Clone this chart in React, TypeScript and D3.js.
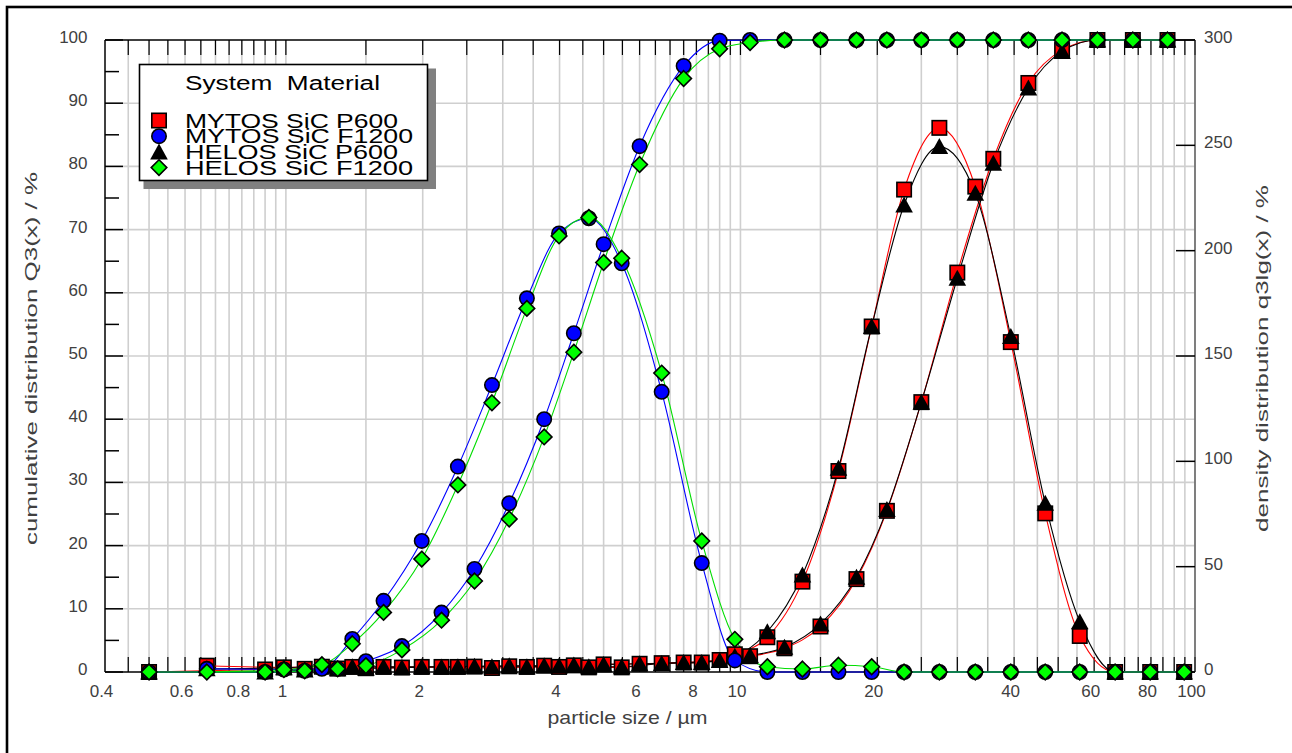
import React from "react";
import * as d3 from "d3";

// ---------- data ----------
// class upper edges (cumulative Q3 points), µm
const classEdges = [0.5, 0.9, 1.1, 1.3, 1.5, 1.8, 2.2, 2.6, 3.1, 3.7, 4.3, 5.0, 6.0, 7.5, 9.0, 10.5, 12.5, 15, 18, 21, 25, 30, 36, 43, 51, 61, 73, 87];
// class centres (density q3lg points), µm
const classMids = [0.67, 0.99, 1.2, 1.4, 1.64, 1.99, 2.39, 2.84, 3.39, 3.99, 4.64, 5.48, 6.71, 8.22, 9.72, 11.46, 13.69, 16.43, 19.44, 22.91, 27.39, 32.86, 39.34, 46.83, 55.78, 66.73, 79.69, 94.66];

const mytosP600Q3 = [0, 0.4, 0.5, 0.55, 0.6, 0.7, 0.8, 0.85, 0.9, 1.0, 1.05, 1.2, 1.3, 1.5, 1.9, 2.5, 3.75, 7.2, 14.7, 25.5, 42.7, 63.2, 81.2, 93.2, 98.4, 100, 100, 100];
const mytosP600q3 = [3, 2.2, 2.5, 2.4, 2.4, 2.4, 2.4, 1.9, 2.4, 2.4, 2.2, 2.2, 4.2, 4.5, 8.4, 16.5, 42.9, 95.4, 164, 229, 258.3, 230.4, 156.6, 75.3, 17.1, 0, 0, 0];

const mytosF1200Q3 = [0, 0, 0.2, 0.5, 1.7, 4.1, 9.4, 16.3, 26.7, 40, 53.6, 67.7, 83.2, 95.9, 99.9, 100, 100, 100, 100, 100, 100, 100, 100, 100, 100, 100, 100, 100];
const mytosF1200q3 = [1.5, 1.2, 1.5, 15.7, 33.8, 62.2, 97.5, 136.2, 177.4, 208.2, 215.4, 194, 133, 51.7, 5.5, 0, 0, 0, 0, 0, 0, 0, 0, 0, 0, 0, 0, 0];

const helosP600Q3 = [0, 0, 0.3, 0.5, 0.6, 0.7, 0.8, 0.9, 1.0, 1.0, 1.1, 1.2, 1.3, 1.5, 1.8, 2.6, 3.9, 7.6, 15.0, 25.7, 42.7, 62.3, 80.5, 92.4, 98.2, 100, 100, 100];
const helosP600q3 = [1.5, 2, 3, 2.5, 2.5, 2.5, 2.5, 2.5, 2.5, 2.8, 2.5, 2.5, 4, 4.5, 7.5, 19.1, 46, 96.7, 164, 221.7, 249.4, 227.2, 159.2, 80.1, 23.9, 0, 0, 0];

const helosF1200Q3 = [0, 0, 0.2, 0.5, 1.0, 3.5, 8.2, 14.4, 24.2, 37.2, 50.6, 64.8, 80.3, 93.9, 98.6, 99.6, 100, 100, 100, 100, 100, 100, 100, 100, 100, 100, 100, 100];
const helosF1200q3 = [0, 1.1, 3.5, 13.4, 28.3, 53.6, 88.8, 127.8, 172.6, 207, 215.8, 196.4, 141.9, 62.2, 15.5, 2.5, 1.4, 3.2, 2.5, 0, 0, 0, 0, 0, 0, 0, 0, 0];

const seriesNames = ["MYTOS SiC P600", "MYTOS SiC F1200", "HELOS SiC P600", "HELOS SiC F1200"];
const legendTitle = "System  Material";

const xTickLabels = [0.4, 0.6, 0.8, 1, 2, 4, 6, 8, 10, 20, 40, 60, 80, 100];
const leftTickLabels = [0, 10, 20, 30, 40, 50, 60, 70, 80, 90, 100];
const rightTickLabels = [0, 50, 100, 150, 200, 250, 300];

const xTitle = "particle size / µm";
const yLeftTitle = "cumulative distribution Q3(x) / %";
const yRightTitle = "density distribution q3lg(x) / %";

// ---------- layout ----------
const W = 1292;
const H = 753;
const PL = 105, PR = 1195, PT = 40, PB = 672;
const FONT = "'Liberation Sans', Arial, Helvetica, sans-serif";

const x = d3.scaleLog().domain([0.4, 100]).range([PL, PR]);
const yL = d3.scaleLinear().domain([0, 100]).range([PB, PT]);
const yR = d3.scaleLinear().domain([0, 300]).range([PB, PT]);

type Marker = "square" | "circle" | "triangle" | "diamond";
interface Series { name: string; color: string; fill: string; marker: Marker; Q3: number[]; q3: number[]; }

const series: Series[] = [
  { name: seriesNames[0], color: "#ff0000", fill: "#ff0000", marker: "square", Q3: mytosP600Q3, q3: mytosP600q3 },
  { name: seriesNames[1], color: "#0000ff", fill: "#0000ff", marker: "circle", Q3: mytosF1200Q3, q3: mytosF1200q3 },
  { name: seriesNames[2], color: "#000000", fill: "#000000", marker: "triangle", Q3: helosP600Q3, q3: helosP600q3 },
  { name: seriesNames[3], color: "#00dd00", fill: "#00ff00", marker: "diamond", Q3: helosF1200Q3, q3: helosF1200q3 },
];

// grid positions (linear steps within each decade)
const gridX: number[] = [];
for (let i = 9; i <= 19; i++) gridX.push(+(i * 0.05).toFixed(2));
for (let i = 2; i <= 19; i++) gridX.push(i * 0.5);
for (let i = 2; i <= 20; i++) gridX.push(i * 5);
const gridY = d3.range(10, 100, 10);
const minorY = d3.range(5, 100, 10);

function MarkerShape({ type, cx, cy, fill }: { type: Marker; cx: number; cy: number; fill: string }) {
  const sw = 1.6;
  if (type === "square")
    return <rect x={cx - 7.2} y={cy - 7.2} width={14.4} height={14.4} fill={fill} stroke="#000" strokeWidth={sw} />;
  if (type === "circle") return <circle cx={cx} cy={cy} r={7.2} fill={fill} stroke="#000" strokeWidth={sw} />;
  if (type === "triangle")
    return <path d={`M${cx},${cy - 8.5}L${cx + 8.8},${cy + 7.5}L${cx - 8.8},${cy + 7.5}Z`} fill="#000" />;
  return (
    <path d={`M${cx},${cy - 7.8}L${cx + 7.8},${cy}L${cx},${cy + 7.8}L${cx - 7.8},${cy}Z`} fill={fill} stroke="#000" strokeWidth={sw} />
  );
}

export default function App() {
  const lineQ = d3
    .line<[number, number]>()
    .x((d) => x(d[0]))
    .y((d) => yL(d[1]))
    .curve(d3.curveMonotoneX);
  const lineq = d3
    .line<[number, number]>()
    .x((d) => x(d[0]))
    .y((d) => yR(d[1]))
    .curve(d3.curveMonotoneX);

  const markerOrder = [0, 2, 1, 3];
  const lineOrder = [0, 2, 1, 3];
  const fmt = (v: number) => String(v);

  return (
    <svg
      width={W}
      height={H}
      viewBox={`0 0 ${W} ${H}`}
      style={{ position: "absolute", left: 0, top: 0, background: "#fff" }}
      fontFamily={FONT}
    >
      <rect x={0} y={0} width={W} height={H} fill="#fff" />
      {/* outer frame */}
      <rect x={7} y={7} width={W + 50} height={H + 50} fill="none" stroke="#000" strokeWidth={2.6} />

      {/* grid */}
      {gridX.map((g, i) => (
        <line key={"gx" + i} x1={x(g)} x2={x(g)} y1={PT} y2={PB} stroke="#cfcfcf" strokeWidth={1.6} />
      ))}
      {gridY.map((g, i) => (
        <line key={"gy" + i} x1={PL} x2={PR} y1={yL(g)} y2={yL(g)} stroke="#cfcfcf" strokeWidth={1.6} />
      ))}

      {/* x ticks top / bottom */}
      {gridX.map((g, i) => (
        <g key={"tx" + i}>
          <line x1={x(g)} x2={x(g)} y1={PT} y2={PT + 15} stroke="#000" strokeWidth={1.2} />
          <line x1={x(g)} x2={x(g)} y1={PB} y2={PB - 15} stroke="#000" strokeWidth={1.2} />
        </g>
      ))}

      {/* axis frame */}
      <line x1={PL} x2={PR} y1={PT} y2={PT} stroke="#000" strokeWidth={1.5} />
      <line x1={PL} x2={PR} y1={PB} y2={PB} stroke="#000" strokeWidth={1.5} />
      <line x1={PL} x2={PL} y1={PT} y2={PB} stroke="#000" strokeWidth={1.5} />
      <line x1={PR} x2={PR} y1={PT} y2={PB} stroke="#444" strokeWidth={1.2} />

      {/* left y ticks */}
      {leftTickLabels.map((v, i) => (
        <line key={"ly" + i} x1={PL} x2={PL + 18} y1={yL(v)} y2={yL(v)} stroke="#000" strokeWidth={1.5} />
      ))}
      {minorY.map((v, i) => (
        <line key={"lmy" + i} x1={PL} x2={PL + 14} y1={yL(v)} y2={yL(v)} stroke="#000" strokeWidth={1.5} />
      ))}
      {/* right y ticks */}
      {rightTickLabels.map((v, i) => (
        <line key={"ry" + i} x1={PR} x2={PR - 19} y1={yR(v)} y2={yR(v)} stroke="#000" strokeWidth={1.5} />
      ))}

      {/* tick labels */}
      {xTickLabels.map((v, i) => (
        <text key={"xl" + i} x={x(v) - 3.5} y={697} textAnchor="middle" fontSize={17} fill="#404040">
          {fmt(v)}
        </text>
      ))}
      {leftTickLabels.map((v, i) => (
        <text key={"yl" + i} x={87.5} y={yL(v) + 3} textAnchor="end" fontSize={17} fill="#404040">
          {fmt(v)}
        </text>
      ))}
      {rightTickLabels.map((v, i) => (
        <text key={"yr" + i} x={1204} y={yR(v) + 3} textAnchor="start" fontSize={17} fill="#404040">
          {fmt(v)}
        </text>
      ))}

      {/* axis titles */}
      <text x={627.5} y={724} textAnchor="middle" fontSize={18.5} fill="#404040" textLength={160} lengthAdjust="spacingAndGlyphs">
        {xTitle}
      </text>
      <text
        transform="translate(37,358.5) rotate(-90)"
        textAnchor="middle"
        fontSize={17}
        fill="#404040"
        textLength={373}
        lengthAdjust="spacingAndGlyphs"
      >
        {yLeftTitle}
      </text>
      <text
        transform="translate(1268,358.5) rotate(-90)"
        textAnchor="middle"
        fontSize={17}
        fill="#404040"
        textLength={347}
        lengthAdjust="spacingAndGlyphs"
      >
        {yRightTitle}
      </text>

      {/* lines */}
      {lineOrder.map((si) => {
        const s = series[si];
        const qPts = classEdges.map((e, i) => [e, s.Q3[i]] as [number, number]);
        const dPts = classMids.map((m, i) => [m, s.q3[i]] as [number, number]);
        return (
          <g key={"ln" + si} fill="none" stroke={s.color} strokeWidth={1.1}>
            <path d={lineQ(qPts) || ""} />
            <path d={lineq(dPts) || ""} />
          </g>
        );
      })}

      {/* markers */}
      {markerOrder.map((si) => {
        const s = series[si];
        return (
          <g key={"mk" + si}>
            {classEdges.map((e, i) => (
              <MarkerShape key={"q" + i} type={s.marker} cx={x(e)} cy={yL(s.Q3[i])} fill={s.fill} />
            ))}
            {classMids.map((m, i) => (
              <MarkerShape key={"d" + i} type={s.marker} cx={x(m)} cy={yR(s.q3[i])} fill={s.fill} />
            ))}
          </g>
        );
      })}

      {/* legend */}
      <rect x={143.5} y={68.5} width={292.5} height={120.5} fill="#808080" />
      <rect x={139.5} y={64.5} width={288} height={116} fill="#fff" stroke="#000" strokeWidth={1.6} />
      <text x={185} y={90} fontSize={20} fill="#000" textLength={195} lengthAdjust="spacingAndGlyphs" style={{ whiteSpace: "pre" }}>
        {legendTitle}
      </text>
      {series.map((s, i) => {
        const cy = 120.5 + i * 15.7;
        const widths = [213, 228, 213, 228];
        return (
          <g key={"lg" + i}>
            <MarkerShape type={s.marker} cx={159} cy={cy} fill={s.fill} />
            <text x={185} y={127.7 + i * 15.7} fontSize={20} fill="#000" textLength={widths[i]} lengthAdjust="spacingAndGlyphs">
              {s.name}
            </text>
          </g>
        );
      })}
    </svg>
  );
}
